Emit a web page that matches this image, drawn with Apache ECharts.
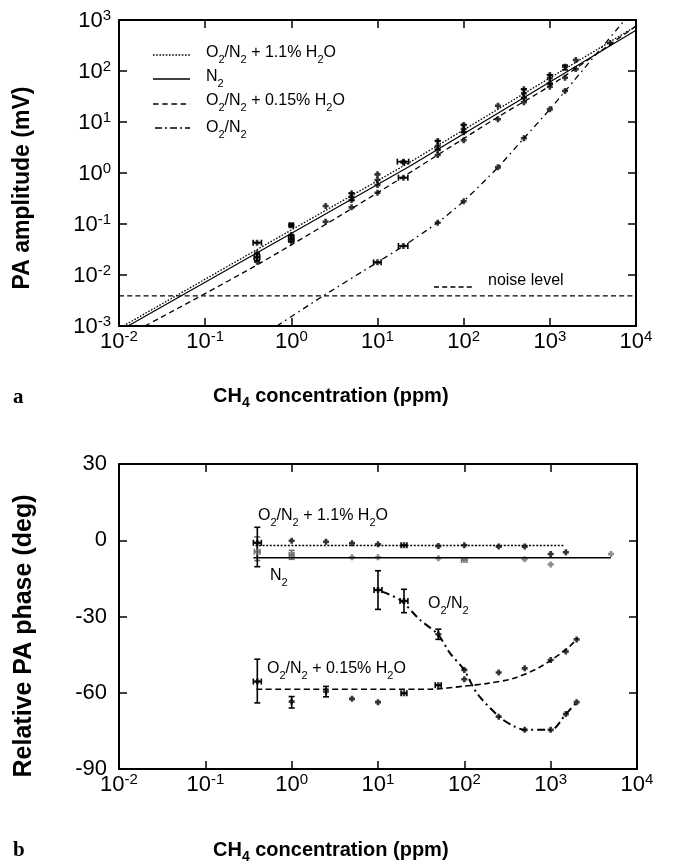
<!DOCTYPE html>
<html>
<head>
<meta charset="UTF-8" />
<script src="https://cdn.jsdelivr.net/npm/echarts@6/dist/echarts.min.js"></script>
</head>
<body style="margin: 0; background: #fff">
<div id="chart" style="width: 680px; height: 864px"></div>
<script>
// ---------- panel a : PA amplitude (mV) vs CH4 (ppm) ----------
var ampWet = [[0.4,0.043],[1,0.095],[2.5,0.225],[5,0.40],[10,0.94],[20,1.67],[50,4.24],[100,8.7],[250,20.9],[500,44],[1000,83.5],[1500,121],[2000,164]];
var ampN2 = [[0.4,0.0266],[1,0.061],[5,0.343],[10,0.73],[20,1.6],[50,3.39],[100,7.3],[500,36.5],[1000,72],[5000,354]];
var ampRepeat = [[0.4,0.0222],[1,0.052],[5,0.295],[10,0.58],[50,2.83],[100,6.3],[500,30],[1000,57]];
var amp015 = [[0.4,0.0182],[1,0.045],[2.5,0.111],[5,0.212],[10,0.41],[20,0.81],[50,2.25],[100,4.4],[250,11.3],[500,24.3],[1000,49],[1500,74],[2000,109]];
var ampDry = [[10,0.0177],[20,0.037],[50,0.106],[100,0.28],[250,1.29],[500,4.8],[1000,17.7],[1500,40.6]];
// x, y, xlo, xhi, ylo, yhi
var ampErr = [
  [0.4,0.043,0.36,0.45,0.043,0.043],[0.4,0.0222,0.37,0.43,0.019,0.026],
  [1,0.095,0.95,1.05,0.09,0.1],[1,0.052,0.93,1.07,0.045,0.06],
  [5,0.343,5,5,0.29,0.40],[10,0.0177,9.0,11.0,0.0177,0.0177],
  [20,1.67,17,23,1.67,1.67],[20,0.81,17.5,22.5,0.81,0.81],[20,0.037,17.5,22.5,0.037,0.037],
  [50,3.39,50,50,2.9,4.3],[100,7.3,100,100,6.3,8.9],[500,36.5,500,500,30,44],
  [1000,72,1000,1000,57,84],[1500,121,1500,1500,105,130]
];
// fitted curves
var fitWet = [[0.0112,0.001],[23.1,1.58],[10000,759]];
var fitN2 = [[0.0127,0.001],[23.1,1.33],[10000,631]];
var fit015 = [[0.02,0.001],[0.4,0.0158],[9.8,0.4],[234,11.7],[1000,51],[3800,240],[10000,760]];
var fitDry = [[0.68,0.001],[2.35,0.0039],[10,0.0178],[20,0.037],[50,0.107],[100,0.28],[250,1.29],[500,4.8],[1000,17.7],[1500,40],[7400,1000]];
var noiseLevel = 0.0039;

// ---------- panel b : relative PA phase (deg) ----------
var phWet = [[0.4,-1],[1,-0.2],[2.5,-0.6],[5,-1.2],[10,-1.6],[20,-2.0],[50,-2.3],[100,-2.0],[250,-2.5],[500,-2.5],[1000,-5.4],[1500,-4.7]];
var phN2 = [[0.4,-4.5],[1,-5.8],[5,-6.7],[10,-6.7],[50,-7.1],[100,-7.8],[500,-7.5],[1000,-9.5],[5000,-5.4]];
var ph015 = [[0.4,-55.6],[1,-63.5],[2.5,-59.5],[5,-62.4],[10,-63.7],[20,-60.2],[50,-57],[100,-54.7],[250,-52],[500,-50.4],[1000,-47.1],[1500,-43.8],[2000,-39]];
var phDry = [[10,-19.6],[20,-23.9],[50,-37],[100,-51],[250,-69.4],[500,-74.6],[1000,-74.6],[1500,-68.4],[2000,-63.7]];
var phErrBlack = [
  [0.4,-1,0.36,0.445,-10.4,5.1],[0.4,-55.6,0.36,0.445,-64,-46.8],
  [1,-63.5,1,1,-66,-61.5],[2.5,-59.5,2.5,2.5,-61.6,-57.5],
  [10,-19.6,9.0,11.1,-27.2,-12],[20,-23.9,18,22.2,-28.5,-19.3],
  [20,-2.0,18.5,21.6,-2.0,-2.0],[50,-37,50,50,-39,-35],
  [20,-60.2,18.5,21.6,-60.2,-60.2],[50,-57,46,54,-57,-57]
];
var phErrGray = [[0.4,-4.5,0.37,0.43,-8,1.3],[1,-5.8,0.94,1.06,-7.5,-4],[100,-7.8,93,107,-7.8,-7.8]];
var fitWetB = [[0.38,-2.1],[1450,-2.1]];
var fitN2B = [[0.36,-6.9],[4980,-6.9]];
var fit015B = [[0.39,-58.6],[40,-58.6],[100,-57.4],[186,-56.3],[376,-54.3],[769,-49.7],[1567,-42.5],[2040,-38.6]];
var fitDryB = [[11.1,-20.2],[18,-23.5],[30.8,-31.4],[49.3,-37],[68.5,-44.5],[99.5,-51],[140,-60.2],[253,-69.4],[371,-73.1],[507,-74.6],[1005,-74.6],[1500,-68.4],[2012,-63.7]];

var FONT = 'Liberation Sans, Arial, sans-serif';
var GRAY = '#707070';
var PLUS = 'path://M2,0H5V2H7V5H5V7H2V5H0V2H2Z';

function logLabel(v) {
  var e = Math.round(Math.log(v) / Math.LN10);
  return '{b|10}{s|' + e + '}';
}
var labelRich = {
  b: { fontSize: 22, lineHeight: 24, verticalAlign: 'bottom', fontFamily: FONT, color: '#000' },
  s: { fontSize: 15, lineHeight: 15, verticalAlign: 'top', fontFamily: FONT, color: '#000' }
};

// chemistry text: "H_2O" -> rich subscript
function chem(t) {
  return t.split(/_(\d)/).map(function (p, i) {
    return i % 2 ? '{s|' + p + '}' : (p ? '{n|' + p + '}' : '');
  }).join('');
}
function chemRich(size, bold) {
  return {
    n: { fontSize: size, lineHeight: size + 4, verticalAlign: 'top', fontFamily: FONT, fontWeight: bold ? 'bold' : 'normal', color: '#000' },
    s: { fontSize: Math.round(size * 0.7), lineHeight: Math.round(size * 0.7), verticalAlign: 'bottom', fontFamily: FONT, fontWeight: bold ? 'bold' : 'normal', color: '#000' }
  };
}
function label(x, y, t, size, bold, rot) {
  var el = {
    type: 'text', x: x, y: y,
    style: { text: chem(t), rich: chemRich(size, bold), align: rot ? 'center' : 'left', verticalAlign: 'middle' }
  };
  if (rot) el.rotation = Math.PI / 2;
  return el;
}
function sample(x1, x2, y, dash) {
  return { type: 'line', shape: { x1: x1, y1: y, x2: x2, y2: y }, style: { stroke: '#000', lineWidth: 1.3, lineDash: dash } };
}

function xAx(grid, pos, labels) {
  return {
    type: 'log', logBase: 10, gridIndex: grid, position: pos, min: 0.01, max: 10000, splitNumber: 6,
    axisLine: { show: true, onZero: false, lineStyle: { color: '#000', width: 2 } },
    axisTick: { show: true, inside: true, length: 8, lineStyle: { color: '#000', width: 1.5 } },
    minorTick: { show: false }, splitLine: { show: false },
    axisLabel: { show: labels, margin: 3, formatter: logLabel, rich: labelRich }
  };
}
function yAx(grid, pos, labels, log) {
  var a = {
    gridIndex: grid, position: pos,
    axisLine: { show: true, onZero: false, lineStyle: { color: '#000', width: 2 } },
    axisTick: { show: true, inside: true, length: 8, lineStyle: { color: '#000', width: 1.5 } },
    minorTick: { show: false }, splitLine: { show: false }
  };
  if (log) {
    a.type = 'log'; a.logBase = 10; a.min = 0.001; a.max = 1000; a.splitNumber = 6;
    a.axisLabel = { show: labels, margin: 8, formatter: logLabel, rich: labelRich };
  } else {
    a.type = 'value'; a.min = -90; a.max = 30; a.interval = 30;
    a.axisLabel = { show: labels, margin: 12, fontSize: 22, fontFamily: FONT, color: '#000' };
  }
  return a;
}

function fit(data, idx, dash, width, smooth) {
  return {
    type: 'line', data: data, xAxisIndex: idx, yAxisIndex: idx, showSymbol: false, symbol: 'none',
    smooth: smooth || false, clip: true, silent: true,
    lineStyle: { color: '#000', width: width, type: dash }
  };
}
function pts(data, idx, color) {
  return {
    type: 'scatter', data: data, xAxisIndex: idx, yAxisIndex: idx, symbol: PLUS, symbolSize: 6,
    itemStyle: { color: color }, clip: true, silent: true
  };
}
function errBars(params, api) {
  var x = api.value(0), y = api.value(1);
  var lo = api.coord([x, api.value(4)]), hi = api.coord([x, api.value(5)]);
  var l = api.coord([api.value(2), y]), r = api.coord([api.value(3), y]);
  var st = { stroke: api.visual('color'), lineWidth: 1.6 };
  var c = 3, kids = [];
  if (lo[1] - hi[1] > 1) {
    kids.push({ type: 'line', shape: { x1: lo[0], y1: lo[1], x2: hi[0], y2: hi[1] }, style: st });
    kids.push({ type: 'line', shape: { x1: lo[0] - c, y1: lo[1], x2: lo[0] + c, y2: lo[1] }, style: st });
    kids.push({ type: 'line', shape: { x1: hi[0] - c, y1: hi[1], x2: hi[0] + c, y2: hi[1] }, style: st });
  }
  if (r[0] - l[0] > 1) {
    kids.push({ type: 'line', shape: { x1: l[0], y1: l[1], x2: r[0], y2: r[1] }, style: st });
    kids.push({ type: 'line', shape: { x1: l[0], y1: l[1] - c, x2: l[0], y2: l[1] + c }, style: st });
    kids.push({ type: 'line', shape: { x1: r[0], y1: r[1] - c, x2: r[0], y2: r[1] + c }, style: st });
  }
  return { type: 'group', children: kids };
}
function errs(data, idx, color) {
  return {
    type: 'custom', data: data, xAxisIndex: idx, yAxisIndex: idx, renderItem: errBars,
    encode: { x: 0, y: 1 }, itemStyle: { color: color }, clip: true, silent: true
  };
}

var chart = echarts.init(document.getElementById('chart'), null, { renderer: 'canvas' });

var option = {
  animation: false,
  backgroundColor: '#fff',
  grid: [
    { left: 119, top: 20, width: 517, height: 306 },
    { left: 119, top: 464, width: 518, height: 305 }
  ],
  xAxis: [xAx(0, 'bottom', true), xAx(0, 'top', false), xAx(1, 'bottom', true), xAx(1, 'top', false)],
  yAxis: [yAx(0, 'left', true, true), yAx(0, 'right', false, true), yAx(1, 'left', true, false), yAx(1, 'right', false, false)],
  series: [
    // panel a
    fit([[0.01, noiseLevel], [10000, noiseLevel]], 0, [5, 3.2], 1.3),
    fit(fitWet, 0, [1.6, 1.6], 1.3),
    fit(fitN2, 0, 'solid', 1.2),
    fit(fit015, 0, [5.5, 3.7], 1.3, 0.3),
    fit(fitDry, 0, [6, 4, 1.6, 4], 1.3, 0.25),
    errs(ampErr, 0, '#000'),
    pts(ampWet, 0, '#000'),
    pts(ampN2, 0, '#000'),
    pts(ampRepeat, 0, '#000'),
    pts(amp015, 0, '#000'),
    pts(ampDry, 0, '#000'),
    // panel b
    fit(fitWetB, 2, [2, 1.6], 1.5),
    fit(fitN2B, 2, 'solid', 1.6),
    fit(fit015B, 2, [6, 3.5], 1.6, 0.3),
    fit(fitDryB, 2, [8, 4, 2, 4], 2, 0.3),
    errs(phErrGray, 2, GRAY),
    errs(phErrBlack, 2, '#000'),
    pts(phN2, 2, GRAY),
    pts(phWet, 2, '#000'),
    pts(ph015, 2, '#000'),
    pts(phDry, 2, '#000')
  ],
  graphic: [
    // legend, panel a
    sample(153, 190, 55, [1.6, 1.6]),
    sample(153, 190, 79, null),
    sample(153, 190, 104, [5.5, 3.7]),
    sample(155, 190, 128, [7, 3, 2, 3]),
    label(206, 55, 'O_2/N_2 + 1.1% H_2O', 16),
    label(206, 79, 'N_2', 16),
    label(206, 103, 'O_2/N_2 + 0.15% H_2O', 16),
    label(206, 130, 'O_2/N_2', 16),
    sample(434, 475, 287, [5, 3.2]),
    label(488, 283, 'noise level', 16),
    // panel b annotations
    label(258, 518, 'O_2/N_2 + 1.1% H_2O', 16),
    label(270, 578, 'N_2', 16),
    label(428, 606, 'O_2/N_2', 16),
    label(267, 671, 'O_2/N_2 + 0.15% H_2O', 16),
    // axis titles
    label(25, 188, 'PA amplitude (mV)', 23, true, true),
    label(26, 636, 'Relative PA phase (deg)', 25, true, true),
    label(213, 398, 'CH_4 concentration (ppm)', 20, true),
    label(213, 852, 'CH_4 concentration (ppm)', 20, true),
    { type: 'text', x: 13, y: 398, style: { text: 'a', font: 'bold 21px Liberation Serif, serif', fill: '#000', verticalAlign: 'middle' } },
    { type: 'text', x: 13, y: 851, style: { text: 'b', font: 'bold 21px Liberation Serif, serif', fill: '#000', verticalAlign: 'middle' } }
  ]
};

chart.setOption(option);
</script>
</body>
</html>
